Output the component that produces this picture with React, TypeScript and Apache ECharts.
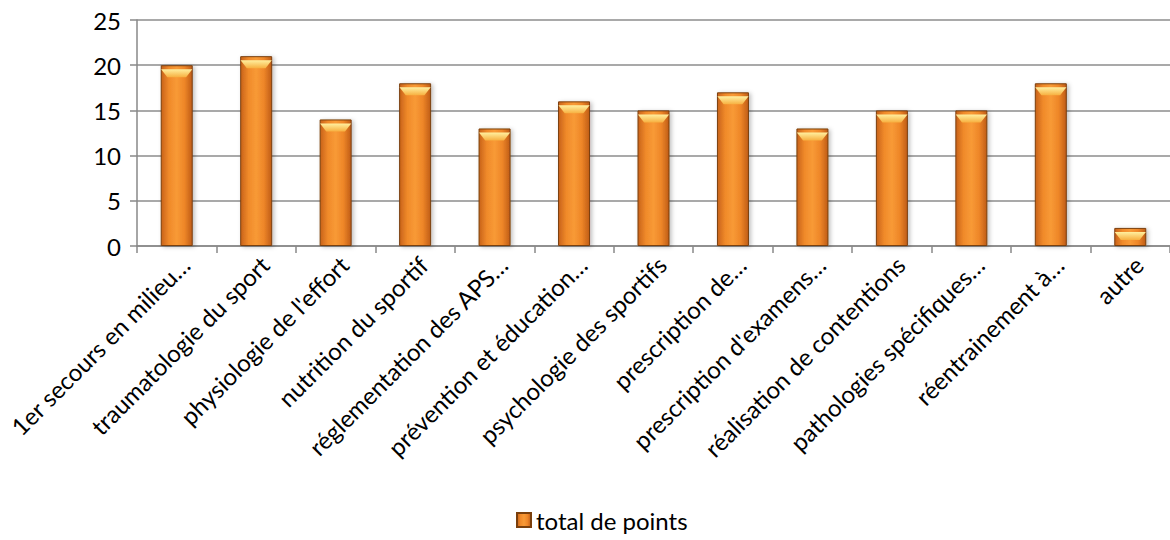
import React, { useEffect, useRef } from "react";
import * as echarts from "echarts";

const categories = [
  "1er secours en milieu…",
  "traumatologie du sport",
  "physiologie de l'effort",
  "nutrition du sportif",
  "réglementation des APS…",
  "prévention et éducation…",
  "psychologie des sportifs",
  "prescription de…",
  "prescription d'examens…",
  "réalisation de contentions",
  "pathologies spécifiques…",
  "réentrainement à…",
  "autre",
];
const values = [20, 21, 14, 18, 13, 16, 15, 17, 13, 15, 15, 18, 2];
const seriesName = "total de points";
const yTicks = { min: 0, max: 25, interval: 5 };

export default function App() {
  const ref = useRef<HTMLDivElement>(null);
  useEffect(() => {
    document.body.style.margin = "0";
    const chart = echarts.init(ref.current!, null, { renderer: "svg" });
    const font = "Lato, 'Open Sans', sans-serif";
    const barGrad = new echarts.graphic.LinearGradient(0, 0, 1, 0, [
      { offset: 0, color: "#c8621a" },
      { offset: 0.25, color: "#f08a2a" },
      { offset: 0.5, color: "#f89a36" },
      { offset: 0.75, color: "#ee8628" },
      { offset: 1, color: "#bf5c16" },
    ]);
    chart.setOption({
      animation: false,
      textStyle: { fontFamily: font },
      grid: { left: 137, top: 20, height: 226, width: 1040 },
      legend: {
        bottom: 3,
        left: 511,
        itemWidth: 14,
        itemHeight: 14,
        itemGap: 4,
        data: [seriesName],
        icon: "rect",
        textStyle: { fontSize: 24, color: "#000", fontFamily: font },
      },
      xAxis: {
        type: "category",
        data: categories,
        axisLine: { lineStyle: { color: "#888", width: 1.5 } },
        axisTick: { show: true, length: 7, lineStyle: { color: "#888", width: 1.5 } },
        axisLabel: {
          rotate: 45,
          interval: 0,
          fontSize: 24,
          color: "#000",
          margin: 6,
          verticalAlign: "top",
          fontFamily: font,
        },
      },
      yAxis: {
        type: "value",
        min: yTicks.min,
        max: yTicks.max,
        interval: yTicks.interval,
        axisLine: { show: true, lineStyle: { color: "#888", width: 1.5 } },
        axisTick: { show: true, length: 7, lineStyle: { color: "#888", width: 1.5 } },
        splitLine: { lineStyle: { color: "#8c8c8c", width: 1.5 } },
        axisLabel: { fontSize: 24, color: "#000", margin: 16, fontFamily: font },
      },
      series: [
        {
          name: seriesName,
          type: "bar",
          data: values,
          barWidth: 32,
          itemStyle: {
            color: barGrad,
            borderColor: "#7a3f0c",
            borderWidth: 1,
            shadowColor: "rgba(0,0,0,0.25)",
            shadowBlur: 4,
            shadowOffsetX: 2,
            shadowOffsetY: 1,
          },
          z: 2,
        },
        {
          name: "bevel",
          type: "pictorialBar",
          data: values,
          symbol: "path://M0,0 L10,0 L8,3 L2,3 Z",
          symbolSize: [31, 8],
          symbolPosition: "end",
          symbolOffset: [0, "50%"],
          itemStyle: {
            color: new echarts.graphic.LinearGradient(0, 0, 0, 1, [
              { offset: 0, color: "#fff0a0" },
              { offset: 1, color: "#f7b040" },
            ]),
          },
          z: 3,
          silent: true,
        },
      ],
    });
    return () => chart.dispose();
  }, []);
  return <div ref={ref} style={{ width: 1170, height: 540 }} />;
}
